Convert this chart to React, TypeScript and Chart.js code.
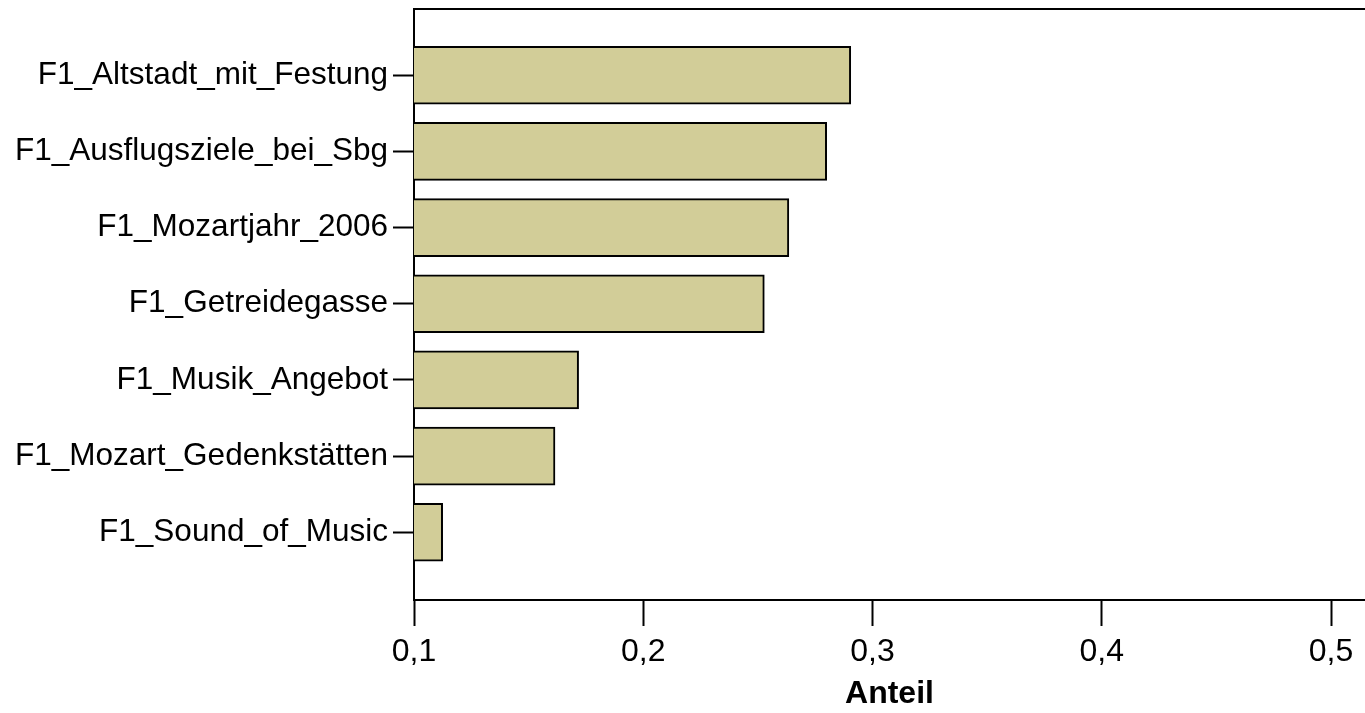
import React, { useEffect, useRef } from "react";
import { Chart, registerables } from "chart.js";

Chart.register(...registerables);

const categories = [
  "F1_Altstadt_mit_Festung",
  "F1_Ausflugsziele_bei_Sbg",
  "F1_Mozartjahr_2006",
  "F1_Getreidegasse",
  "F1_Musik_Angebot",
  "F1_Mozart_Gedenkstätten",
  "F1_Sound_of_Music",
];
const anteil = [0.2905, 0.28, 0.2635, 0.2528, 0.1718, 0.1615, 0.1125];
const xTicks = [0.1, 0.2, 0.3, 0.4, 0.5];
const xTitle = "Anteil";

const topBorder = {
  id: "topBorder",
  afterDraw(chart: any) {
    const { ctx, chartArea } = chart;
    ctx.save();
    ctx.strokeStyle = "#000";
    ctx.lineWidth = 2;
    ctx.beginPath();
    ctx.moveTo(chartArea.left - 1, chartArea.top);
    ctx.lineTo(chartArea.right, chartArea.top);
    ctx.stroke();
    ctx.restore();
  },
};

export default function App() {
  const ref = useRef<HTMLCanvasElement | null>(null);
  useEffect(() => {
    document.body.style.margin = "0";
    const canvas = ref.current!;
    const chart = new Chart(canvas, {
      type: "bar",
      data: {
        datasets: [
          {
            data: anteil.map((v, i) => ({ x: v, y: i })),
            backgroundColor: "rgb(210,205,152)",
            borderColor: "#000",
            borderWidth: 2,
            borderSkipped: false,
            barThickness: 58,
          },
        ],
      },
      plugins: [topBorder],
      options: {
        indexAxis: "y",
        animation: false,
        responsive: false,
        devicePixelRatio: 1,
        layout: { padding: { top: 9, left: 0, right: 0, bottom: 0 } },
        plugins: { legend: { display: false }, tooltip: { enabled: false } },
        scales: {
          x: {
            type: "linear",
            min: 0.1,
            max: 0.5148,
            offset: false,
            afterBuildTicks: (s: any) => {
              s.ticks = xTicks.map((v) => ({ value: v }));
            },
            afterFit: (s: any) => {
              s.height = 113;
              s.paddingRight = 0;
            },
            ticks: {
              color: "#000",
              padding: 7,
              maxRotation: 0,
              font: { family: "'Liberation Sans', Arial, sans-serif", size: 32 },
              callback: (v: any) => Number(v).toFixed(1).replace(".", ","),
            },
            grid: {
              offset: false,
              drawOnChartArea: false,
              drawTicks: true,
              tickLength: 26,
              tickColor: "#000",
              tickWidth: 2,
            },
            border: { display: true, color: "#000", width: 2 },
            title: {
              display: true,
              text: xTitle,
              color: "#000",
              font: { family: "'Liberation Sans', Arial, sans-serif", size: 32, weight: "bold" },
              padding: { top: 0, bottom: 0 },
            },
          },
          y: {
            type: "linear",
            reverse: true,
            min: -0.87,
            max: 6.89,
            offset: false,
            afterBuildTicks: (s: any) => {
              s.ticks = categories.map((_, i) => ({ value: i }));
            },
            afterFit: (s: any) => {
              s.width = 414;
              s.paddingTop = 0;
              s.paddingBottom = 0;
            },
            ticks: {
              color: "#000",
              padding: 5,
              font: { family: "'Liberation Sans', Arial, sans-serif", size: 31.5 },
              callback: (v: any) => categories[Math.round(Number(v))] ?? "",
            },
            grid: {
              offset: false,
              drawOnChartArea: false,
              drawTicks: true,
              tickLength: 21,
              tickColor: "#000",
              tickWidth: 2,
            },
            border: { display: true, color: "#000", width: 2 },
          },
        },
      },
    } as any);
    return () => chart.destroy();
  }, []);
  return (
    <div style={{ position: "fixed", left: 0, top: 0, width: 1365, height: 713, background: "#fff" }}>
      <canvas ref={ref} width={1365} height={713} style={{ display: "block" }} />
    </div>
  );
}
